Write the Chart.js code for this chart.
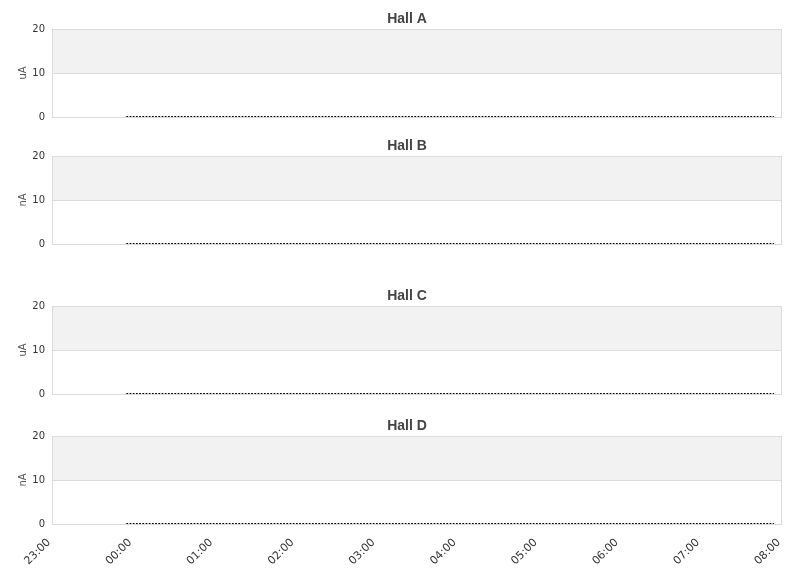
<!DOCTYPE html>
<html><head><meta charset="utf-8">
<script src="https://cdn.jsdelivr.net/npm/chart.js@4.4.1/dist/chart.umd.min.js"></script>
<style>
html,body{margin:0;padding:0;background:#fff;width:811px;height:578px;overflow:hidden}
.p{position:absolute;left:0;width:811px}
canvas{display:block}
</style></head><body>
<div class="p" style="top:0px"><canvas id="c0" width="811" height="130"></canvas></div>
<div class="p" style="top:130px"><canvas id="c1" width="811" height="127"></canvas></div>
<div class="p" style="top:270px"><canvas id="c2" width="811" height="137"></canvas></div>
<div class="p" style="top:400px"><canvas id="c3" width="811" height="178"></canvas></div>
<script>
// ---- data ----
const hallNames = ["Hall A", "Hall B", "Hall C", "Hall D"];
const hallUnits = ["uA", "nA", "uA", "nA"];
const tickLabels = ["23:00","00:00","01:00","02:00","03:00","04:00","05:00","06:00","07:00","08:00"];
const yTicks = [0, 10, 20];
const sampleTimes = ["23:55", "07:54"];   // first and last reading
const hallA = [0, 0];
const hallB = [0, 0];
const hallC = [0, 0];
const hallD = [0, 0];
const hallValues = [hallA, hallB, hallC, hallD];

// layout of the four panels
const panelPad = [
  {top: 29, bottom: 13},
  {top: 26, bottom: 13},
  {top: 36, bottom: 13},
  {top: 36, bottom: 0}
];

function toMinutes(t) {
  const [h, m] = t.split(":").map(Number);
  return (h >= 23 ? (h - 23) : (h + 1)) * 60 + m;
}

const panelPlugin = {
  id: 'panel',
  beforeDraw(chart) {
    const {ctx, chartArea: a, scales: {y}} = chart;
    ctx.save();
    ctx.fillStyle = '#f2f2f2';
    const y20 = y.getPixelForValue(yTicks[2]);
    const y10 = y.getPixelForValue(yTicks[1]);
    ctx.fillRect(a.left, y20, a.right - a.left, y10 - y20);
    ctx.restore();
  },
  beforeDatasetsDraw(chart) {
    const {ctx, chartArea: a} = chart;
    ctx.save();
    ctx.strokeStyle = '#dcdcdc';
    ctx.lineWidth = 1;
    ctx.strokeRect(Math.round(a.left) + 0.5, Math.round(a.top) + 0.5,
                   Math.round(a.right - a.left) - 1, Math.round(a.bottom - a.top));
    ctx.restore();
  },
  afterDraw(chart) {
    const {ctx, chartArea: a} = chart;
    ctx.save();
    ctx.fillStyle = '#444';
    ctx.font = 'bold 14px "Liberation Sans", Arial, sans-serif';
    ctx.textAlign = 'center';
    ctx.textBaseline = 'middle';
    ctx.fillText(chart.options.plugins.panel.title, 407, a.top - 10);
    ctx.restore();
  }
};

hallNames.forEach((name, i) => {
  const last = i === hallNames.length - 1;
  new Chart(document.getElementById('c' + i), {
    type: 'line',
    data: {
      datasets: [{
        data: sampleTimes.map((t, k) => ({x: toMinutes(t), y: hallValues[i][k]})),
        borderColor: '#000',
        borderWidth: 2,
        borderDash: [1.8, 1.4],
        borderCapStyle: 'butt',
        pointRadius: 0,
        fill: false,
        tension: 0
      }]
    },
    options: {
      responsive: false,
      animation: false,
      events: [],
      layout: {padding: {top: panelPad[i].top, bottom: panelPad[i].bottom, left: 0, right: 29}},
      plugins: {
        legend: {display: false},
        tooltip: {enabled: false},
        panel: {title: name}
      },
      scales: {
        x: {
          type: 'linear',
          display: last,
          min: toMinutes(tickLabels[0]),
          max: toMinutes(tickLabels[tickLabels.length - 1]),
          afterBuildTicks: s => { s.ticks = tickLabels.map((l, k) => ({value: k * 60})); },
          grid: {display: false, drawTicks: false},
          border: {display: false},
          ticks: {
            autoSkip: false,
            minRotation: 45,
            maxRotation: 45,
            padding: 12,
            labelOffset: -3,
            color: '#333',
            font: {family: '"DejaVu Sans"', size: 11},
            callback: v => tickLabels[Math.round(v / 60)]
          },
          afterFit: s => { if (last) s.height = 54; }
        },
        y: {
          min: yTicks[0],
          max: yTicks[2],
          afterBuildTicks: s => { s.ticks = yTicks.map(v => ({value: v})); },
          grid: {color: '#dcdcdc', drawTicks: false},
          border: {display: false},
          ticks: {
            padding: 7,
            color: '#333',
            font: {family: '"DejaVu Sans"', size: 10}
          },
          title: {
            display: true,
            text: hallUnits[i],
            color: '#555',
            font: {family: '"DejaVu Sans"', size: 10},
            padding: {top: 17, bottom: 0}
          },
          afterFit: s => { s.width = 52; }
        }
      }
    },
    plugins: [panelPlugin]
  });
});
</script>
</body></html>
